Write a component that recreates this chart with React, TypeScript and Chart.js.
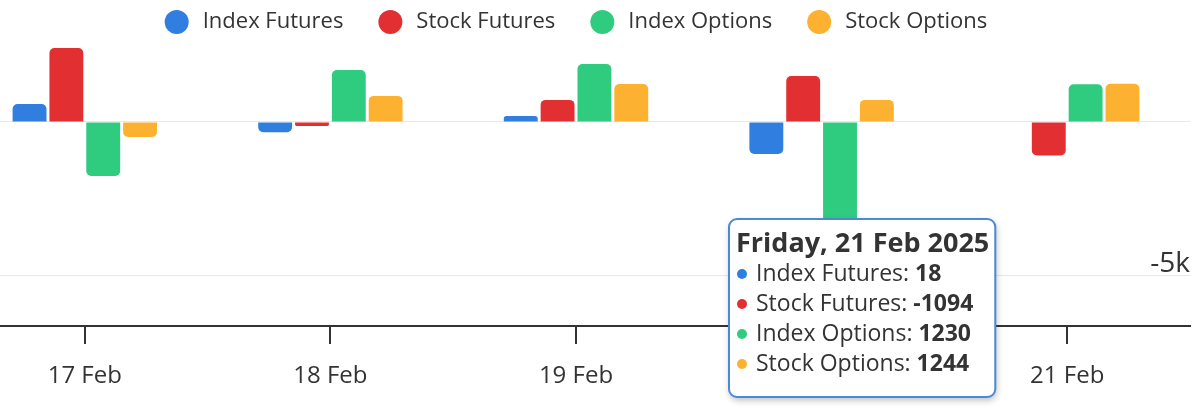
import { useEffect, useRef } from 'react';
import { Chart, registerables } from 'chart.js';

Chart.register(...registerables);

const categories = ['17 Feb', '18 Feb', '19 Feb', '20 Feb', '21 Feb'];
const fullDates = [
  'Monday, 17 Feb 2025',
  'Tuesday, 18 Feb 2025',
  'Wednesday, 19 Feb 2025',
  'Thursday, 20 Feb 2025',
  'Friday, 21 Feb 2025',
];
const indexFutures = [586, -330, 195, -1040, 18];
const stockFutures = [2410, -130, 720, 1500, -1094];
const indexOptions = [-1760, 1690, 1890, -4300, 1230];
const stockOptions = [-490, 850, 1240, 720, 1244];
const seriesNames = ['Index Futures', 'Stock Futures', 'Index Options', 'Stock Options'];
const seriesColors = ['#2f7ee0', '#e22f31', '#2fcc7f', '#fdb131'];
const yTicks = [-5000, 0];
const yMin = -6645;
const yMax = 2671;
const tooltipIndex = 4;
const tooltipAnchorIndex = 3;

const FONT = '"Open Sans", "Noto Sans", sans-serif';
const TEXT = '#333333';

function roundRectPath(ctx: CanvasRenderingContext2D, x: number, y: number, w: number, h: number, r: number) {
  ctx.beginPath();
  ctx.moveTo(x + r, y);
  ctx.lineTo(x + w - r, y);
  ctx.arcTo(x + w, y, x + w, y + r, r);
  ctx.lineTo(x + w, y + h - r);
  ctx.arcTo(x + w, y + h, x + w - r, y + h, r);
  ctx.lineTo(x + r, y + h);
  ctx.arcTo(x, y + h, x, y + h - r, r);
  ctx.lineTo(x, y + r);
  ctx.arcTo(x, y, x + r, y, r);
  ctx.closePath();
}

const legendPlugin = {
  id: 'customLegend',
  afterDraw(chart: any) {
    const ctx: CanvasRenderingContext2D = chart.ctx;
    const { left, right } = chart.chartArea;
    const r = 12;
    const gapText = 14;
    const gapItem = 35;
    ctx.save();
    ctx.font = `22px ${FONT}`;
    const ds = chart.data.datasets;
    const widths = ds.map((d: any) => ctx.measureText(d.label).width);
    const total = widths.reduce((a: number, w: number) => a + 2 * r + gapText + w, 0) + gapItem * (ds.length - 1);
    let x = (left + right) / 2 - total / 2;
    const y = 22;
    ds.forEach((d: any, i: number) => {
      ctx.fillStyle = d.backgroundColor;
      ctx.beginPath();
      ctx.arc(x + r, y, r, 0, Math.PI * 2);
      ctx.fill();
      ctx.fillStyle = TEXT;
      ctx.textBaseline = 'middle';
      ctx.textAlign = 'left';
      ctx.fillText(d.label, x + 2 * r + gapText, y);
      x += 2 * r + gapText + widths[i] + gapItem;
    });
    ctx.restore();
  },
};

const tooltipPlugin = {
  id: 'fixedTooltip',
  afterDraw(chart: any) {
    const ctx: CanvasRenderingContext2D = chart.ctx;
    const xs = chart.scales.x;
    const idx = tooltipIndex;
    const left = xs.getPixelForValue(tooltipAnchorIndex) - 92.6;
    const top = 219;
    const title = fullDates[idx];
    const titleFont = `bold 27px ${FONT}`;
    const bodyFont = `23px ${FONT}`;
    const bodyBold = `bold 23px ${FONT}`;
    ctx.save();
    ctx.font = titleFont;
    const titleW = ctx.measureText(title).width;
    const lines = chart.data.datasets.map((d: any) => ({
      label: d.label + ': ',
      value: String(d.data[idx]),
      color: d.backgroundColor,
    }));
    let bodyW = 0;
    lines.forEach((l: any) => {
      ctx.font = bodyFont;
      const a = ctx.measureText(l.label).width;
      ctx.font = bodyBold;
      const b = ctx.measureText(l.value).width;
      bodyW = Math.max(bodyW, a + b);
    });
    const w = Math.max(titleW + 13, bodyW + 27 + 10);
    const h = 178;

    ctx.shadowColor = 'rgba(0,0,0,0.28)';
    ctx.shadowBlur = 7;
    ctx.shadowOffsetX = 1;
    ctx.shadowOffsetY = 3;
    roundRectPath(ctx, left, top, w, h, 8);
    ctx.fillStyle = '#ffffff';
    ctx.fill();
    ctx.shadowColor = 'transparent';
    ctx.lineWidth = 2;
    ctx.strokeStyle = '#4a88d9';
    ctx.stroke();

    ctx.fillStyle = TEXT;
    ctx.textBaseline = 'middle';
    ctx.textAlign = 'left';
    ctx.font = titleFont;
    ctx.fillText(title, left + 7, top + 25);

    lines.forEach((l: any, i: number) => {
      const y = top + 55 + i * 30;
      ctx.fillStyle = l.color;
      ctx.beginPath();
      ctx.arc(left + 13, y, 5, 0, Math.PI * 2);
      ctx.fill();
      ctx.fillStyle = TEXT;
      ctx.font = bodyFont;
      ctx.fillText(l.label, left + 27, y);
      const a = ctx.measureText(l.label).width;
      ctx.font = bodyBold;
      ctx.fillText(l.value, left + 27 + a, y);
    });
    ctx.restore();
  },
};

export default function App() {
  const ref = useRef<HTMLCanvasElement | null>(null);

  useEffect(() => {
    if (!ref.current) return;
    const series = [indexFutures, stockFutures, indexOptions, stockOptions];
    const chart = new Chart(ref.current, {
      type: 'bar',
      data: {
        labels: categories,
        datasets: series.map((data, i) => ({
          label: seriesNames[i],
          data,
          backgroundColor: seriesColors[i],
          borderWidth: 0,
          borderRadius: 5,
          categoryPercentage: 0.6,
          barPercentage: 0.92,
        })),
      },
      options: {
        responsive: false,
        maintainAspectRatio: false,
        animation: false,
        layout: { padding: { left: 12, right: 11, top: 40, bottom: 0 } },
        plugins: {
          legend: { display: false },
          tooltip: { enabled: false },
        },
        scales: {
          x: {
            offset: true,
            afterFit: (s: any) => {
              s.height = 83;
            },
            grid: {
              display: true,
              drawOnChartArea: false,
              drawTicks: true,
              tickLength: 18,
              color: '#333333',
              lineWidth: 2,
              offset: false,
            },
            border: { display: true, color: '#333333', width: 2 },
            ticks: {
              color: TEXT,
              font: { family: FONT, size: 24 },
              padding: 18,
              maxRotation: 0,
              autoSkip: false,
            },
          },
          y: {
            position: 'right',
            min: yMin,
            max: yMax,
            afterBuildTicks: (s: any) => {
              s.ticks = yTicks.map((v) => ({ value: v }));
            },
            afterFit: (s: any) => {
              s.width = 0;
            },
            grid: { color: '#e8e8e8', lineWidth: 1, drawTicks: false },
            border: { display: false },
            ticks: {
              mirror: true,
              padding: 0,
              labelOffset: -11,
              color: TEXT,
              font: { family: FONT, size: 28 },
              callback: (v: any) => (Number(v) === 0 ? '' : Number(v) / 1000 + 'k'),
            },
          },
        },
      } as any,
      plugins: [legendPlugin, tooltipPlugin],
    });
    return () => chart.destroy();
  }, []);

  return (
    <div
      style={{
        position: 'absolute',
        left: 0,
        top: 0,
        width: 1201,
        height: 409,
        overflow: 'hidden',
        background: '#ffffff',
      }}
    >
      <canvas
        ref={ref}
        width={1251}
        height={409}
        style={{ position: 'absolute', left: -50, top: 0, width: 1251, height: 409 }}
      />
    </div>
  );
}
